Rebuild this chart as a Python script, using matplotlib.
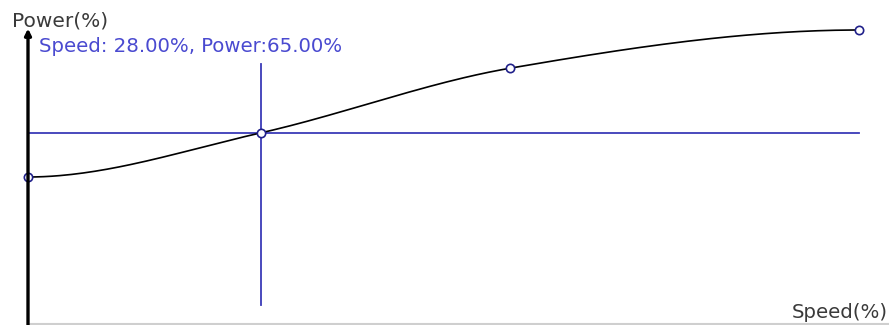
import numpy as np
import matplotlib
matplotlib.use("Agg")
import matplotlib.pyplot as plt

# curve control points (speed %, power %)
speed = [0, 28, 58, 100]
power = [50, 65, 87, 100]

# selected point shown by the crosshair
sel_speed = 28.0
sel_power = 65.0

x_label = "Speed(%)"
y_label = "Power(%)"

BLUE = "#3a3ab8"


def _spline(xs, ys, n=60):
    """Cubic Hermite through the points, flat at both ends."""
    xs = np.asarray(xs, float)
    ys = np.asarray(ys, float)
    m = np.zeros_like(ys)
    for i in range(1, len(xs) - 1):
        m[i] = (ys[i + 1] - ys[i - 1]) / (xs[i + 1] - xs[i - 1])
    px, py = [], []
    for i in range(len(xs) - 1):
        h = xs[i + 1] - xs[i]
        t = np.linspace(0, 1, n)
        h00 = 2 * t**3 - 3 * t**2 + 1
        h10 = t**3 - 2 * t**2 + t
        h01 = -2 * t**3 + 3 * t**2
        h11 = t**3 - t**2
        px.append(xs[i] + t * h)
        py.append(h00 * ys[i] + h10 * h * m[i] + h01 * ys[i + 1] + h11 * h * m[i + 1])
    return np.concatenate(px), np.concatenate(py)


fig = plt.figure(figsize=(8.89, 3.25), dpi=100)
ax = fig.add_axes([0, 0, 1, 1])
ax.set_axis_off()

# pixel layout: speed 0..100 -> x 28..859, power 0..100 -> y 324..30 (from top)
sx = 831 / 100
sy = 294 / 100
ax.set_xlim(-28 / sx, (889 - 28) / sx)
ax.set_ylim(-(325 - 324) / sy, 100 + 30 / sy)


def px(x, y):
    """pixel position (from top-left) -> data coords, for text placement"""
    return (x - 28) / sx, (324 - y) / sy


# x axis (light, at the very bottom)
ax.plot([0, 103.6], [0, 0], color="#cfcfcf", lw=1.5, clip_on=False)

# y axis with arrow
ax.annotate("", xy=(0, 100.5), xytext=(0, -1),
            arrowprops=dict(arrowstyle="-|>", color="black", lw=2.4,
                            mutation_scale=9, shrinkA=0, shrinkB=0))

# crosshair
ax.plot([speed[0], speed[-1]], [sel_power, sel_power], color=BLUE, lw=1.3)
ax.plot([sel_speed, sel_speed], [6.5, 88.5], color=BLUE, lw=1.3)

cx, cy = _spline(speed, power)
ax.plot(cx, cy, color="black", lw=1.2)
ax.plot(speed, power, "o", ms=6, mfc="white", mec="#20208a", mew=1.2)

ax.text(*px(12, 21), y_label, fontsize=14.5, color="#3a3a3a",
        ha="left", va="center")
ax.text(*px(39, 47), f"Speed: {sel_speed:.2f}%, Power:{sel_power:.2f}%",
        fontsize=14.2, color="#4a4ad0", ha="left", va="center")
ax.text(*px(888, 312), x_label, fontsize=14.2, color="#3a3a3a",
        ha="right", va="center")

fig.savefig("out.png", dpi=100)
